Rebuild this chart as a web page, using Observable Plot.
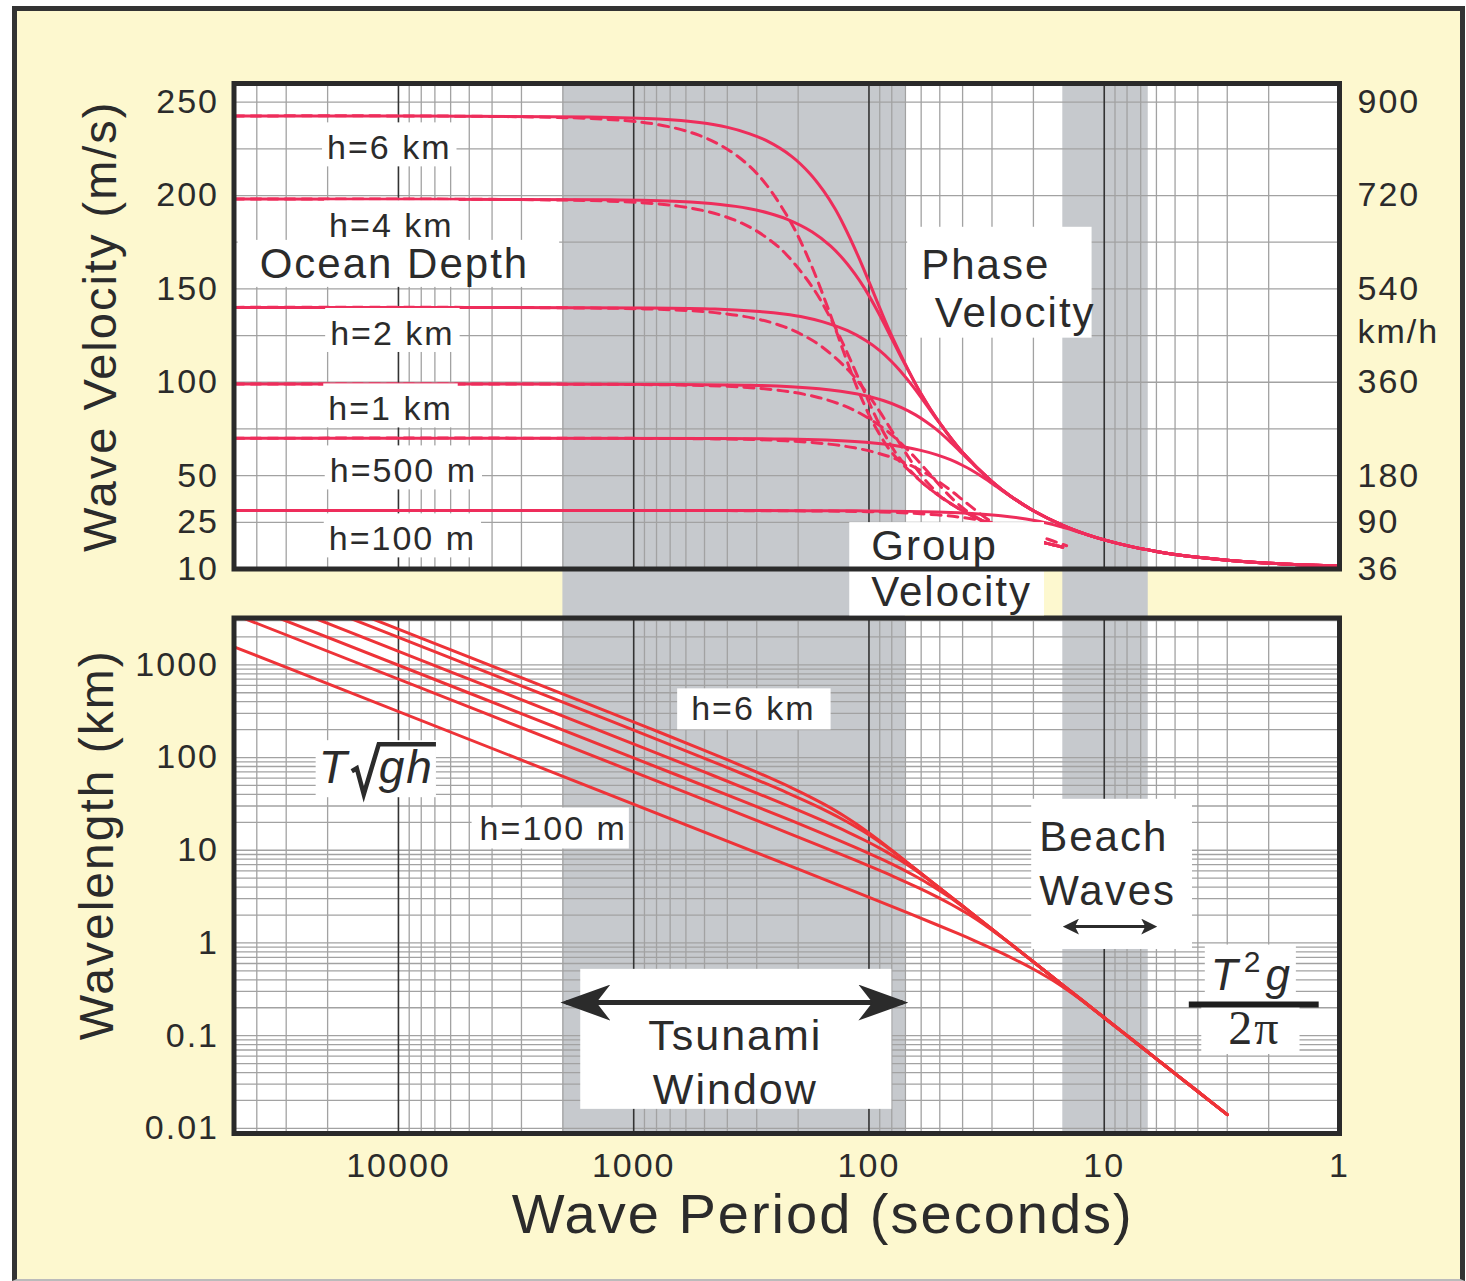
<!DOCTYPE html>
<html><head><meta charset="utf-8">
<script src="https://cdn.jsdelivr.net/npm/d3@7"></script>
<script src="https://cdn.jsdelivr.net/npm/@observablehq/plot@0.6"></script>
<style>
body{margin:0;background:#fff;}
#page{position:relative;width:1466px;height:1281px;overflow:hidden;}
#cream{position:absolute;left:12px;top:6px;width:1453px;height:1275px;box-sizing:border-box;border:5px solid #333;border-bottom:2px solid #bbb;background:#fdf8cf;}
#top,#bottom{position:absolute;left:0;width:1466px;}
#top{top:0px;} #bottom{top:560px;}
#page svg{font-family:'Liberation Sans',Arial,sans-serif;color:#2b2b2b;background:transparent;max-width:none;overflow:hidden;}
#page svg text{letter-spacing:2px;}
</style></head>
<body><div id="page"><div id="cream"></div><div id="bottom"></div><div id="top"></div></div>
<script>
// ---------- tick labels ----------
const periodTicks = [10000, 1000, 100, 10, 1];
const periodTickLabels = ["10000", "1000", "100", "10", "1"];
const velocityTicks = [250, 200, 150, 100, 50, 25, 0];
const velocityTickLabels = ["250", "200", "150", "100", "50", "25", "10"];
const kmhTickLabels = ["900", "720", "540", "360", "180", "90", "36"];
const kmhUnit = "km/h";
const wavelengthTicks = [1000, 100, 10, 1, 0.1, 0.01];
const wavelengthTickLabels = ["1000", "100", "10", "1", "0.1", "0.01"];
const velocityGrid = [25, 50, 75, 100, 125, 150, 175, 200, 225, 250];

// ---------- shaded period bands (s) ----------
const bandFrom = [2000, 15];
const bandTo = [70, 6.5];

// ---------- curves: period (s), phase & group velocity (m/s), wavelength (km) ----------
const period_6km = [50000,1556,782.1,525.7,398.6,323.2,273.8,213.2,178.1,155.4,139.6,128.0,111.9,98.9,89.9];
const phase_6km = [242.6,242.1,241.0,239.1,236.5,233.2,229.5,221.0,211.7,202.2,193.0,184.1,168.4,152.4,139.7];
const group_6km = [242.6,241.3,237.9,232.2,224.7,215.9,206.0,184.9,164.3,145.5,129.5,116.1,96.6,81.4,71.9];
const wavelength_6km = [12130,377.0,188.5,125.7,94.25,75.40,62.83,47.12,37.70,31.42,26.93,23.56,18.85,15.08,12.57];

const period_4km = [50000,1271,638.7,429.3,325.5,264.0,223.6,174.1,145.4,126.9,114.0,104.5,91.4,80.8,73.4];
const phase_4km = [198.1,197.7,196.8,195.2,193.1,190.4,187.4,180.5,172.9,165.1,157.5,150.4,137.5,124.4,114.1];
const group_4km = [198.1,197.0,194.2,189.6,183.5,176.2,168.2,151.0,134.1,118.8,105.7,94.8,78.8,66.4,58.7];
const wavelength_4km = [9905,251.3,125.7,83.78,62.83,50.27,41.89,31.42,25.13,20.94,17.95,15.71,12.57,10.05,8.378];

const period_2km = [50000,898.5,451.5,303.5,230.1,186.6,158.1,123.1,102.8,89.7,80.6,73.9,64.6,57.1,51.9];
const phase_2km = [140.1,139.8,139.2,138.0,136.5,134.7,132.5,127.6,122.2,116.8,111.4,106.3,97.3,88.0,80.7];
const group_2km = [140.1,139.3,137.3,134.1,129.8,124.6,118.9,106.8,94.8,84.0,74.7,67.1,55.8,47.0,41.5];
const wavelength_2km = [7004,125.7,62.83,41.89,31.42,25.13,20.94,15.71,12.57,10.47,8.976,7.854,6.283,5.027,4.189];

const period_1km = [50000,635.3,319.2,214.6,162.7,131.9,111.8,87.0,72.7,63.4,57.0,52.2,45.7,40.4,36.7];
const phase_1km = [99.05,98.85,98.41,97.60,96.53,95.22,93.70,90.24,86.44,82.56,78.77,75.18,68.77,62.22,57.04];
const group_1km = [99.05,98.53,97.11,94.79,91.75,88.12,84.09,75.51,67.06,59.41,52.85,47.42,39.42,33.21,29.37];
const wavelength_1km = [4952,62.83,31.42,20.94,15.71,12.57,10.47,7.854,6.283,5.236,4.488,3.927,3.142,2.513,2.094];

const period_500m = [50000,449.3,225.8,151.8,115.1,93.3,79.0,61.5,51.4,44.85,40.3,36.9,32.3,28.6,25.97];
const phase_500m = [70.04,69.90,69.59,69.02,68.26,67.33,66.26,63.81,61.12,58.38,55.70,53.16,48.63,44.00,40.34];
const group_500m = [70.04,69.67,68.67,67.03,64.88,62.31,59.46,53.39,47.42,42.01,37.37,33.53,27.88,23.48,20.77];
const wavelength_500m = [3502,31.42,15.71,10.47,7.854,6.283,5.236,3.927,3.142,2.618,2.244,1.963,1.571,1.257,1.047];

const period_100m = [50000,200.9,101.0,67.9,51.5,41.7,35.3,27.5,23.0,20.06,18.0,16.5,14.45,12.77,11.61];
const phase_100m = [31.32,31.26,31.12,30.86,30.52,30.11,29.63,28.53,27.33,26.11,24.91,23.77,21.75,19.68,18.04];
const group_100m = [31.32,31.15,30.71,29.97,29.01,27.87,26.59,23.88,21.20,18.79,16.71,14.99,12.47,10.50,9.29];
const wavelength_100m = [1566,6.283,3.142,2.094,1.571,1.257,1.047,0.785,0.628,0.524,0.449,0.393,0.314,0.251,0.209];

// deep-water branch shared by all depths
const deepPeriod = [80,60,50,40,30,25,20,15,12,10,8,6,5,4,3,2,1.5,1];
const deepPhase = [124.9,93.7,78.1,62.4,46.8,39.0,31.2,23.4,18.7,15.6,12.5,9.37,7.80,6.24,4.68,3.12,2.34,1.56];
const deepGroup = [62.4,46.8,39.0,31.2,23.4,19.5,15.6,11.7,9.37,7.80,6.24,4.68,3.90,3.12,2.34,1.56,1.17,0.78];
const deepWavelength = [9.99,5.62,3.90,2.50,1.405,0.976,0.624,0.351,0.225,0.156,0.0999,0.0562,0.0390,0.0250,0.01405,0.00624,0.00351,0.00156];

const depthSeries = [
  {h: "6 km", period: period_6km, phase: phase_6km, group: group_6km, wavelength: wavelength_6km},
  {h: "4 km", period: period_4km, phase: phase_4km, group: group_4km, wavelength: wavelength_4km},
  {h: "2 km", period: period_2km, phase: phase_2km, group: group_2km, wavelength: wavelength_2km},
  {h: "1 km", period: period_1km, phase: phase_1km, group: group_1km, wavelength: wavelength_1km},
  {h: "500 m", period: period_500m, phase: phase_500m, group: group_500m, wavelength: wavelength_500m},
  {h: "100 m", period: period_100m, phase: phase_100m, group: group_100m, wavelength: wavelength_100m}
];

// ---------- annotations ----------
const topLabels = [
  {label: "h=6 km", T: 10940, v: 225.2, size: 34},
  {label: "h=4 km", T: 10720, v: 183.4, size: 34},
  {label: "Ocean Depth", T: 10400, v: 163.1, size: 42},
  {label: "h=2 km", T: 10610, v: 125.8, size: 34},
  {label: "h=1 km", T: 10810, v: 85.4, size: 34},
  {label: "h=500 m", T: 9530, v: 52.2, size: 34},
  {label: "h=100 m", T: 9620, v: 15.8, size: 34}
];
const phaseLabel = {label: "Phase\n\u00a0Velocity", T: 60.0, v: 150.8};
const groupLabel = {label: "Group\nVelocity", T: 97.8, v: 0.3};
const bottomLabels = [
  {label: "h=6 km", T: 310, L: 330, size: 34},
  {label: "h=100 m", T: 2198, L: 17.1, size: 34},
  {label: "T√gh", T: 12420, L: 76.2, size: 46},
  {label: "T²g", T: 2.37, L: 0.4457, size: 44}
];
const tsunamiLabel = {label: "Tsunami\nWindow", T: 370, L: 0.0552};
const beachLabel = {label: "Beach\nWaves", T: 18.9, L: 7.74};
const twoPiLabel = {label: "2π", T: 2.30, L: 0.119};
const tsunamiArrow = [{T1: 1932, T2: 72.1, L: 0.2275}];
const beachArrow = [{T1: 14.4, T2: 6.19, L: 1.50}];
const fractionBar = [{T1: 4.35, T2: 1.22, L: 0.217}];

// white label boxes: padding [top, right, bottom, left]
const boxPad = new Map([
  ["h=6 km", [6, 5, 0, 5]], ["h=4 km", [6, 5, 0, 5]], ["h=2 km", [6, 5, 0, 5]],
  ["h=1 km", [6, 5, 0, 5]], ["h=500 m", [6, 5, 0, 5]], ["h=100 m", [6, 5, 0, 5]],
  ["Ocean Depth", [0, 30, 0, 22]],
  ["Phase\u00a0Velocity", [14, -4, 2, 14]],
  ["GroupVelocity", [0, 12, 0, 22]],
  ["TsunamiWindow", [42, 69, -4, 68]],
  ["BeachWaves", [14, 16, 35, 8]],
  ["T√gh", [1, 2, 4, 3]],
  ["T²g", [0, 4, 4, 6]],
  ["2π", [0, 19, 0, 27]]
]);
const boxPadBottom = new Map([
  ["h=6 km", [1, 15, 2, 14]], ["h=100 m", [1, 2, 2, 8]]
]);

// ---------- helpers ----------
function extend(period, values, deepValues, minT) {
  const rows = period.map((T, i) => ({T, v: values[i]}));
  const last = period[period.length - 1];
  deepPeriod.forEach((T, i) => { if (T < last) rows.push({T, v: deepValues[i]}); });
  return rows.filter(d => d.T >= minT);
}
const phaseRows = depthSeries.flatMap(s => extend(s.period, s.phase, deepPhase, 1).map(d => ({...d, h: s.h})));
const groupRows = depthSeries.flatMap(s => extend(s.period, s.group, deepGroup, 14).map(d => ({...d, h: s.h})));
const wavelengthRows = depthSeries.flatMap(s => extend(s.period, s.wavelength, deepWavelength, 3).map(d => ({...d, h: s.h})));
const bands = bandFrom.map((f, i) => ({from: f, to: bandTo[i]}));

const minorPeriods = [];
for (let k = 0; k < 5; k++) for (let m = 2; m <= 9; m++) { const v = m * 10 ** k; if (v <= 50000) minorPeriods.push(v); }
const decadePeriods = [10, 100, 1000, 10000];
const wavelengthGrid = [];
for (let k = -2; k <= 3; k++) for (let m = 1; m <= 9; m++) { const v = m * 10 ** k; if (v >= 0.0088 && v <= 3200) wavelengthGrid.push(v); }

const velocityLabelMap = new Map(velocityTicks.map((d, i) => [d, velocityTickLabels[i]]));
const kmhLabelMap = new Map(velocityTicks.map((d, i) => [d, kmhTickLabels[i]]));
const periodLabelMap = new Map(periodTicks.map((d, i) => [d, periodTickLabels[i]]));
const wavelengthLabelMap = new Map(wavelengthTicks.map((d, i) => [d, wavelengthTickLabels[i]]));

const gridColor = "#a2a2a2", decadeColor = "#333", bandColor = "#c6c9cd", frameColor = "#2a2a2a";
const topRed = "#ee2d5b", bottomRed = "#ee3338", ink = "#2b2b2b";

// ---------- top panel ----------
const topPlot = Plot.plot({
  width: 1466, height: 620,
  marginLeft: 233.5, marginRight: 127, marginTop: 83, marginBottom: 51.5,
  x: {type: "log", domain: [50000, 1], axis: null},
  y: {domain: [0, 260]},
  marks: [
    Plot.frame({fill: "white", stroke: "none"}),
    Plot.rect(bands, {x1: "from", x2: "to", fill: bandColor}),
    Plot.ruleY(velocityGrid, {stroke: gridColor, strokeWidth: 1.3}),
    Plot.ruleX(minorPeriods, {stroke: gridColor, strokeWidth: 1.3}),
    Plot.ruleX(decadePeriods, {stroke: decadeColor, strokeWidth: 1.6}),
    Plot.line(groupRows, {x: "T", y: "v", z: "h", stroke: topRed, strokeWidth: 3, strokeDasharray: "10,7", curve: "catmull-rom"}),
    Plot.line(phaseRows, {x: "T", y: "v", z: "h", stroke: topRed, strokeWidth: 3, curve: "catmull-rom"}),
    Plot.text(topLabels, {x: "T", y: "v", text: "label", fontSize: d => d.size, fill: ink}),
    Plot.text([phaseLabel], {x: "T", y: "v", text: "label", fontSize: 42, lineHeight: 1.14, textAnchor: "start", fill: ink}),
    Plot.text([groupLabel], {x: "T", y: "v", text: "label", fontSize: 42, lineHeight: 1.1, textAnchor: "start", fill: ink}),
    Plot.text([kmhUnit], {frameAnchor: "right", y: 127, dx: 18, textAnchor: "start", fontSize: 34, fill: ink}),
    Plot.text(["Wave Velocity (m/s)"], {frameAnchor: "left", dx: -133, rotate: -90, textAnchor: "middle", lineAnchor: "middle", fontSize: 47, fill: ink}),
    Plot.axisY({ticks: velocityTicks, tickFormat: d => velocityLabelMap.get(d), tickSize: 0, tickPadding: 15, fontSize: 34, label: null}),
    Plot.axisY({anchor: "right", ticks: velocityTicks, tickFormat: d => kmhLabelMap.get(d), tickSize: 0, tickPadding: 18, fontSize: 34, label: null}),
    Plot.frame({stroke: frameColor, strokeWidth: 5})
  ]
});

// ---------- bottom panel ----------
const bottomPlot = Plot.plot({
  width: 1466, height: 721,
  marginLeft: 233.5, marginRight: 127, marginTop: 57.5, marginBottom: 148,
  x: {type: "log", domain: [50000, 1]},
  y: {type: "log", domain: [0.0088, 3200]},
  marks: [
    Plot.frame({fill: "white", stroke: "none"}),
    Plot.rect(bands, {x1: "from", x2: "to", y1: 0.0088, y2: 1e5, fill: bandColor}),
    Plot.ruleY(wavelengthGrid, {stroke: gridColor, strokeWidth: 1.3}),
    Plot.ruleX(minorPeriods, {stroke: gridColor, strokeWidth: 1.3}),
    Plot.ruleX(decadePeriods, {stroke: decadeColor, strokeWidth: 1.6}),
    Plot.line(wavelengthRows, {x: "T", y: "v", z: "h", stroke: bottomRed, strokeWidth: 3, curve: "catmull-rom", clip: true}),
    Plot.text(bottomLabels, {x: "T", y: "L", text: "label", fontSize: d => d.size, fill: ink}),
    Plot.text([tsunamiLabel], {x: "T", y: "L", text: "label", fontSize: 43, lineHeight: 1.256, fill: ink}),
    Plot.text([beachLabel], {x: "T", y: "L", text: "label", fontSize: 42, lineHeight: 1.29, textAnchor: "start", fill: ink}),
    Plot.text([twoPiLabel], {x: "T", y: "L", text: "label", fontSize: 48, fontFamily: "'Liberation Serif', 'Times New Roman', serif", fill: ink}),
    Plot.text(["Wave Period (seconds)"], {frameAnchor: "bottom", dx: 36, dy: 82, textAnchor: "middle", lineAnchor: "middle", fontSize: 56, fill: ink}),
    Plot.text(["Wavelength (km)"], {frameAnchor: "left", dx: -136, dy: -31, rotate: -90, textAnchor: "middle", lineAnchor: "middle", fontSize: 48, fill: ink}),
    Plot.ruleY(fractionBar, {y: "L", x1: "T1", x2: "T2", stroke: "#1e1e1e", strokeWidth: 6}),
    Plot.link(tsunamiArrow, {x1: "T1", x2: "T2", y1: "L", y2: "L", stroke: ink, strokeWidth: 5}),
    Plot.link(beachArrow, {x1: "T1", x2: "T2", y1: "L", y2: "L", stroke: ink, strokeWidth: 3}),
    Plot.axisY({ticks: wavelengthTicks, tickFormat: d => wavelengthLabelMap.get(d), tickSize: 0, tickPadding: 15, fontSize: 34, label: null}),
    Plot.axisX({ticks: periodTicks, tickFormat: d => periodLabelMap.get(d), tickSize: 0, tickPadding: 19, fontSize: 34, label: null}),
    Plot.frame({stroke: frameColor, strokeWidth: 5})
  ]
});

document.getElementById("bottom").appendChild(bottomPlot);
document.getElementById("top").appendChild(topPlot);

// ---------- post-processing: formulas, label boxes, arrowheads ----------
const ns = "http://www.w3.org/2000/svg";
function el(name, attrs, text) {
  const e = document.createElementNS(ns, name);
  for (const k in attrs) e.setAttribute(k, attrs[k]);
  if (text != null) e.textContent = text;
  return e;
}
function buildFormulas(svg) {
  svg.querySelectorAll('g[aria-label="text"] text').forEach(t => {
    const key = t.textContent;
    if (key === "T√gh") {
      t.dataset.key = key;
      t.textContent = "";
      t.appendChild(el("tspan", {"font-style": "italic"}, "T"));
      t.appendChild(el("tspan", {"font-style": "italic", dx: 30}, "gh"));
      const gs = t.getStartPositionOfChar(1), he = t.getEndPositionOfChar(2);
      const b = gs.y, x = gs.x;
      const d = `M${x-27},${b-12}L${x-22},${b-15}L${x-15},${b+11}L${x},${b-39}L${he.x+2},${b-39}`;
      const p = el("path", {d, fill: "none", stroke: ink, "stroke-width": 4.5, "stroke-linejoin": "miter"});
      if (t.getAttribute("transform")) p.setAttribute("transform", t.getAttribute("transform"));
      t.parentNode.appendChild(p);
    } else if (key === "T²g") {
      t.dataset.key = key;
      t.textContent = "";
      t.appendChild(el("tspan", {"font-style": "italic"}, "T"));
      t.appendChild(el("tspan", {dy: -18, dx: 4, "font-size": 30}, "2"));
      t.appendChild(el("tspan", {dy: 18, dx: 3, "font-style": "italic"}, "g"));
    }
  });
}
function addBoxes(svg, pads) {
  const sr = svg.getBoundingClientRect();
  const groups = [...svg.querySelectorAll('g[aria-label="text"]')];
  if (!groups.length) return;
  const layer = el("g", {"aria-label": "label boxes"});
  groups[0].parentNode.insertBefore(layer, groups[0]);
  for (const g of groups) for (const t of g.querySelectorAll("text")) {
    const key = (t.dataset.key || t.textContent);
    const pad = pads.get(key);
    if (!pad) continue;
    const r = t.getBoundingClientRect();
    layer.appendChild(el("rect", {
      x: r.left - sr.left - pad[3], y: r.top - sr.top - pad[0],
      width: r.width + pad[1] + pad[3], height: r.height + pad[0] + pad[2], fill: "white"
    }));
  }
}
function addArrowheads(svg) {
  let defs = svg.querySelector("defs");
  if (!defs) { defs = el("defs", {}); svg.insertBefore(defs, svg.firstChild); }
  const mk = (id, len, half, notch, ref) => {
    const m = el("marker", {id, markerUnits: "userSpaceOnUse", viewBox: `0 ${-half} ${len} ${2*half}`,
      markerWidth: len, markerHeight: 2*half, refX: ref, refY: 0, orient: "auto-start-reverse"});
    m.appendChild(el("path", {d: `M${len},0L0,${-half}L${notch},0L0,${half}Z`, fill: ink}));
    defs.appendChild(m);
  };
  mk("headBig", 50, 18, 14, 44);
  mk("headSmall", 16, 8, 4, 12);
  svg.querySelectorAll('g[aria-label="link"]').forEach(g => {
    const w = +(g.getAttribute("stroke-width") || 3);
    const id = w >= 4 ? "headBig" : "headSmall";
    g.querySelectorAll("path").forEach(p => { p.setAttribute("marker-start", `url(#${id})`); p.setAttribute("marker-end", `url(#${id})`); });
  });
}
buildFormulas(bottomPlot);
addBoxes(topPlot, boxPad);
addBoxes(bottomPlot, new Map([...boxPad, ...boxPadBottom]));
addArrowheads(bottomPlot);
</script></body></html>
